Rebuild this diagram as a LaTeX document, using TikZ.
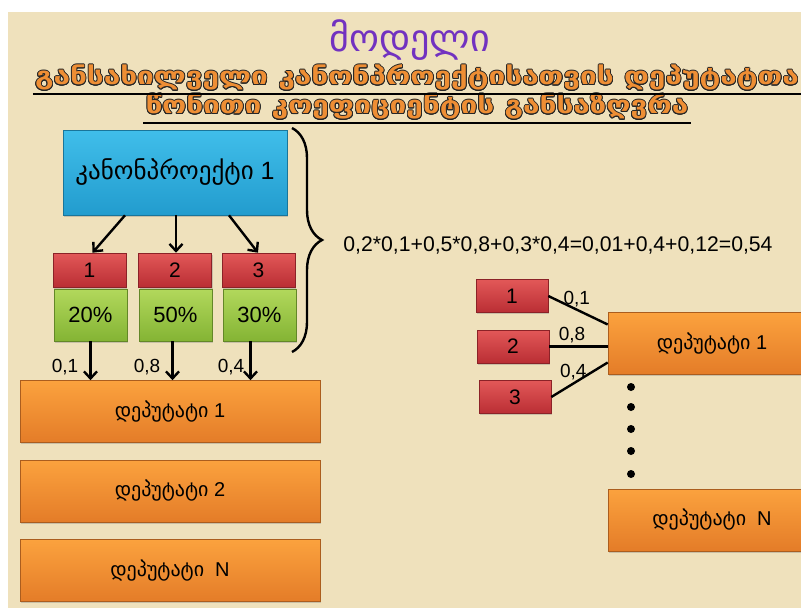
\documentclass[tikz,border=0pt]{standalone}
\usepackage{fontspec}
\usepackage{contour}
\setmainfont{Liberation Sans}
\newfontfamily\geo{DejaVu Sans}
\newfontfamily\geowide[FakeStretch=1.24]{DejaVu Sans}
\usetikzlibrary{arrows.meta,decorations.pathreplacing,shadows}
\definecolor{parchment}{RGB}{239,225,188}
\definecolor{blueTop}{RGB}{64,190,234}
\definecolor{blueBot}{RGB}{34,156,206}
\definecolor{redTop}{RGB}{226,88,88}
\definecolor{redBot}{RGB}{186,46,52}
\definecolor{greenTop}{RGB}{178,216,92}
\definecolor{greenBot}{RGB}{132,180,52}
\definecolor{orangeTop}{RGB}{251,162,62}
\definecolor{orangeBot}{RGB}{228,124,40}
\definecolor{titlePurple}{RGB}{114,50,192}
\definecolor{subOrange}{RGB}{238,142,52}
\contourlength{0.8pt}
\begin{document}
\begin{tikzpicture}[x=1pt,y=-1pt,line width=2.4pt,
 shade box/.style={draw=#1Bot!75!black,line width=0.6pt,top color=#1Top,bottom color=#1Bot,
   inner sep=0pt,drop shadow={shadow xshift=1.2pt,shadow yshift=-1.8pt,opacity=0.35}},
 proj box/.style={shade box=blue,minimum width=224pt,minimum height=85pt,font=\fontsize{25}{27}\selectfont},
 num box/.style={shade box=red,minimum width=73pt,minimum height=34pt,font=\fontsize{21}{23}\selectfont},
 pct box/.style={shade box=green,minimum width=73pt,minimum height=52pt,font=\fontsize{22}{24}\selectfont},
 dep box/.style={shade box=orange,minimum width=300pt,minimum height=62pt,font=\fontsize{20}{22}\selectfont},
 arr/.style={-{Straight Barb[length=7pt,width=13pt]}},
 wt/.style={font=\fontsize{19}{21}\selectfont,inner sep=2pt},
 sub/.style={font=\geowide\bfseries\fontsize{24}{26}\selectfont,text=subOrange,inner sep=1pt},
 dot/.style={circle,fill=black,inner sep=0pt,minimum size=8pt}]
\useasboundingbox (0,0) rectangle (801,608);
\fill[parchment] (8,12) rectangle (801,608);
%title
  \node[font=\geo\fontsize{38}{42}\selectfont,text=titlePurple] (title) at (410,40) {მოდელი};
  \node[sub] (sub1) at (417,78) {\contour{black!85}{განსახილველი კანონპროექტისათვის დეპუტატთა}};
  \node[sub] (sub2) at (417,107) {\contour{black!85}{წონითი კოეფიციენტის განსაზღვრა}};
  \draw[line width=1.8pt] ([yshift=-1pt]sub1.south west) -- ([yshift=-1pt]sub1.south east);
  \draw[line width=1.8pt] ([yshift=-1pt]sub2.south west) -- ([yshift=-1pt]sub2.south east);
%left part
  \node[proj box] (proj) at (175,172.5) {{\geo კანონპროექტი} 1};
  \node[num box] (r1) at (89.5,270) {1};
  \node[num box] (r2) at (175,270) {2};
  \node[num box] (r3) at (258.5,270) {3};
  \node[pct box] (g1) at (90.5,315) {20\%};
  \node[pct box] (g2) at (175.5,315) {50\%};
  \node[pct box] (g3) at (259.5,315) {30\%};
  \node[dep box] (dep1) at (170,411.5) {{\geo დეპუტატი} 1};
  \node[dep box] (dep2) at (170,491) {{\geo დეპუტატი} 2};
  \node[dep box] (depN) at (170,570.5) {{\geo დეპუტატი}\ \ N};
%arrows
  \draw[arr] ([xshift=-50pt]proj.south) -- ([xshift=3pt]r1.north);
  \draw[arr] ([xshift=1pt]proj.south) -- ([xshift=1pt]r2.north);
  \draw[arr] ([xshift=54pt]proj.south) -- ([xshift=-0.5pt]r3.north);
  \draw[arr] (g1.south) -- node[wt,pos=0.66,left=9pt] {0,1} (g1.south |- dep1.north);
  \draw[arr] ([xshift=-3pt]g2.south) -- node[wt,pos=0.66,left=9pt] {0,8} ([xshift=-3pt]g2.south |- dep1.north);
  \draw[arr] ([xshift=-9pt]g3.south) -- node[wt,pos=0.66,left=3pt] {0,4} ([xshift=-9pt]g3.south |- dep1.north);
%brace
  \coordinate (btop) at (292,128);
  \coordinate (bbot) at (292,352);
  \draw[decorate,decoration={brace,amplitude=30pt}] (btop) -- (bbot);
  \node[font=\fontsize{21.2}{23}\selectfont] (calc) at (558,245) {0,2*0,1+0,5*0,8+0,3*0,4=0,01+0,4+0,12=0,54};
%right part
  \node[num box,minimum width=72pt,minimum height=33pt] (q1) at (512,296) {1};
  \node[num box,minimum width=72pt,minimum height=33pt] (q2) at (513,346.5) {2};
  \node[num box,minimum width=72pt,minimum height=33pt] (q3) at (515,397) {3};
  \node[dep box,minimum width=208pt] (rd1) at (712,343.5) {{\geo დეპუტატი} 1};
  \node[dep box,minimum width=208pt] (rdN) at (712,520) {{\geo დეპუტატი}\ \ N};
  \draw (q1.east) -- node[wt,pos=0.48,above] {0,1} ([yshift=19pt]rd1.west);
  \draw (q2.east) -- node[wt,pos=0.39,above] {0,8} (q2.east -| rd1.west);
  \draw (q3.east) -- node[wt,pos=0.39,above] {0,4} ([yshift=-19pt]rd1.west);
  \foreach \y [count=\i] in {387,407,429,451,474}
    \node[dot] (d\i) at (631,\y) {};
\end{tikzpicture}
\end{document}
